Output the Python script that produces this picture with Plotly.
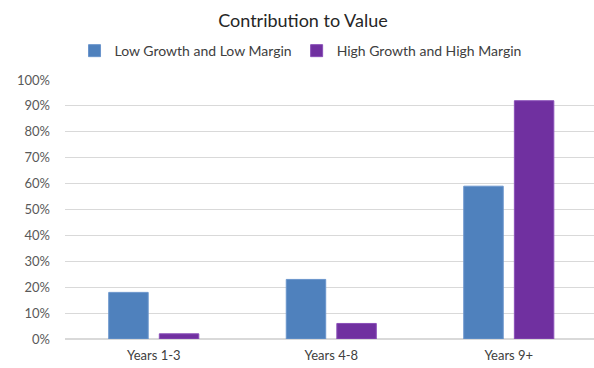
import plotly.graph_objects as go

categories = ["Years 1-3", "Years 4-8", "Years 9+"]
low_growth = [0.18, 0.23, 0.59]
high_growth = [0.02, 0.06, 0.92]
series_names = ["Low Growth and Low Margin", "High Growth and High Margin"]
tick_vals = [i / 10 for i in range(11)]
tick_text = [f"{i*10}%" for i in range(11)]

FONT = "Lato"
fig = go.Figure()
fig.add_trace(go.Bar(x=categories, y=low_growth, name=series_names[0],
                     marker=dict(color="#4F81BD", line=dict(color="#6A95CC", width=1))))
fig.add_trace(go.Bar(x=categories, y=high_growth, name=series_names[1],
                     marker=dict(color="#7030A0", line=dict(color="#8A4FB8", width=1))))

fig.update_layout(
    width=594, height=368,
    margin=dict(l=65, r=0, t=80, b=29),
    paper_bgcolor="white", plot_bgcolor="white",
    font=dict(family=FONT, color="#595959", size=13),
    title=dict(text="Contribution to Value", x=0.51, xanchor="center", y=0.945, yanchor="middle",
               font=dict(family=FONT, size=18, color="#262626")),
    barmode="group", bargap=0.43, bargroupgap=0.22,
    legend=dict(orientation="h", x=0.018, xanchor="left", y=1.05, yanchor="bottom",
                font=dict(family=FONT, size=14, color="#404040"),
                itemwidth=30, tracegroupgap=0, traceorder="normal"),
    showlegend=True,
)
fig.update_xaxes(range=[-0.5, 2.48], showgrid=False, showline=False, ticks="",
                 tickfont=dict(family=FONT, size=13, color="#404040"), fixedrange=True,
                 ticklabelstandoff=7)
fig.update_yaxes(range=[0, 1.0], tickvals=tick_vals, ticktext=tick_text,
                 showgrid=True, gridcolor="#D9D9D9", gridwidth=1,
                 zeroline=True, zerolinecolor="#D9D9D9", ticks="",
                 tickfont=dict(family=FONT, size=13, color="#595959"), ticklabelstandoff=14)

fig.write_html("out.html")
